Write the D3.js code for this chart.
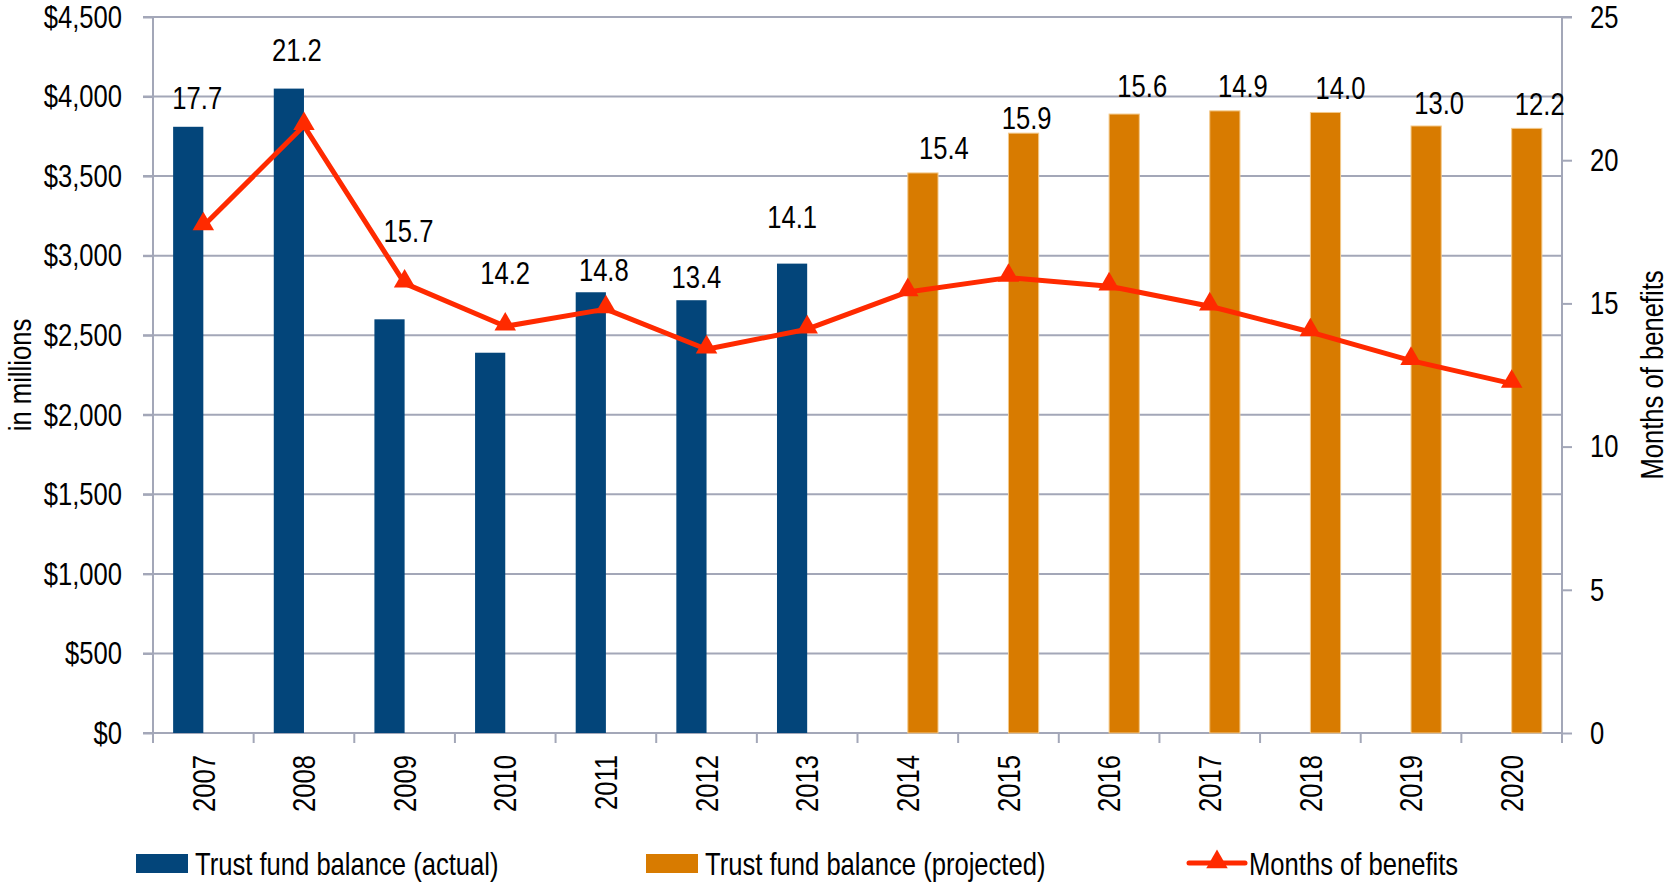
<!DOCTYPE html>
<html>
<head>
<meta charset="utf-8">
<script src="https://cdn.jsdelivr.net/npm/d3@7"></script>
<style>
  body { margin: 0; background: #fff; }
  svg text { font-family: "Liberation Sans", Arial, sans-serif; fill: #000; }
</style>
</head>
<body>
<svg id="chart" width="1672" height="889"></svg>
<script>
const years = ["2007", "2008", "2009", "2010", "2011", "2012", "2013",
               "2014", "2015", "2016", "2017", "2018", "2019", "2020"];
// trust fund balance, $ millions
const actual    = [3810, 4050, 2600, 2390, 2770, 2720, 2950, null, null, null, null, null, null, null];
const projected = [null, null, null, null, null, null, null, 3520, 3770, 3890, 3910, 3900, 3815, 3800];
const months    = [17.7, 21.2, 15.7, 14.2, 14.8, 13.4, 14.1, 15.4, 15.9, 15.6, 14.9, 14.0, 13.0, 12.2];
const leftTicks  = [0, 500, 1000, 1500, 2000, 2500, 3000, 3500, 4000, 4500];
const rightTicks = [0, 5, 10, 15, 20, 25];

// hand placed labels in the original: lift above bar top, shift from bar centre
const labelLift  = [29, 39, 89, 80, 22, 23, 47, 25, 15, 28, 25, 25, 23, 25];
const labelShift = [9, 8, 19, 15, 13, 5, 0, 21, 3, 18, 18, 15, 13, 13];

const navy = "#03457a", orange = "#d87b00", red = "#ff2a00", grid = "#a3a7b8";
const fs = "32px";
const squeeze = 0.8; // the original uses a narrow face, none is installed

// squeeze text horizontally along its own direction
function narrow(sel) {
  sel.each(function () {
    const t = d3.select(this);
    const tx = +t.attr("x") || 0, ty = +t.attr("y") || 0;
    const prev = t.attr("transform") || "";
    t.attr("x", 0).attr("y", 0)
      .attr("transform", `${prev} translate(${tx},${ty}) scale(${squeeze},1)`);
  });
}

const svg = d3.select("#chart");
const plotL = 153, plotR = 1562, plotT = 17, plotB = 733;

const x = d3.scaleBand().domain(years).range([plotL, plotR]).paddingInner(0.4).paddingOuter(0.2);
const sub = d3.scaleBand().domain(["actual", "projected"]).range([0, x.bandwidth()]);
const yL = d3.scaleLinear().domain([0, 4500]).range([plotB, plotT]);
const yR = d3.scaleLinear().domain([0, 25]).range([plotB, plotT]);
const step = x.step();
const centre = d => x(d) + x.bandwidth() / 2;

// gridlines
svg.append("g").selectAll("line").data(leftTicks).join("line")
  .attr("x1", plotL - 10).attr("x2", d => d === 4500 ? plotR + 10 : plotR)
  .attr("y1", d => yL(d)).attr("y2", d => yL(d))
  .attr("stroke", grid).attr("stroke-width", 2);

// left axis
const gl = svg.append("g").attr("transform", `translate(${plotL},0)`)
  .call(d3.axisLeft(yL).tickValues(leftTicks).tickSize(10).tickPadding(21)
    .tickFormat(d => "$" + d3.format(",")(d)));
gl.select(".domain").attr("stroke", grid).attr("stroke-width", 2).attr("d", `M0,${plotT}V${plotB + 10}`);
gl.selectAll(".tick line").attr("stroke", grid).attr("stroke-width", 2);
gl.selectAll("text").style("font-size", fs).attr("fill", "#000").call(narrow);

// right axis
const gr = svg.append("g").attr("transform", `translate(${plotR},0)`)
  .call(d3.axisRight(yR).tickValues(rightTicks).tickSize(10).tickPadding(18));
gr.select(".domain").attr("stroke", grid).attr("stroke-width", 2).attr("d", `M0,${plotT}V${plotB + 10}`);
gr.selectAll(".tick line").attr("stroke", grid).attr("stroke-width", 2);
gr.selectAll("text").style("font-size", fs).attr("fill", "#000").call(narrow);

// x axis: ticks at category boundaries
const bounds = d3.range(years.length + 1).map(i => plotL + i * step);
svg.append("line").attr("x1", plotL).attr("x2", plotR).attr("y1", plotB).attr("y2", plotB)
  .attr("stroke", grid).attr("stroke-width", 2);
svg.append("g").selectAll("line").data(bounds).join("line")
  .attr("x1", d => d).attr("x2", d => d).attr("y1", plotB).attr("y2", plotB + 10)
  .attr("stroke", grid).attr("stroke-width", 2);
svg.append("g").selectAll("text").data(years).join("text")
  .attr("transform", d => `translate(${centre(d)},755) rotate(-90)`)
  .attr("text-anchor", "end").attr("dy", "0.35em")
  .style("font-size", fs).text(d => d).call(narrow);

// bars
svg.append("g").selectAll("rect").data(years.map((d, i) => ({ year: d, v: actual[i] })).filter(d => d.v != null))
  .join("rect")
  .attr("x", d => x(d.year) + sub("actual")).attr("width", sub.bandwidth())
  .attr("y", d => yL(d.v)).attr("height", d => plotB - yL(d.v))
  .attr("fill", navy);
svg.append("g").selectAll("rect").data(years.map((d, i) => ({ year: d, v: projected[i] })).filter(d => d.v != null))
  .join("rect")
  .attr("x", d => x(d.year) + sub("projected")).attr("width", sub.bandwidth())
  .attr("y", d => yL(d.v)).attr("height", d => plotB - yL(d.v))
  .attr("fill", orange).attr("stroke", "#f3c98a").attr("stroke-width", 1);

// months line
const pts = years.map((d, i) => ({ year: d, v: months[i] }));
svg.append("path").datum(pts)
  .attr("d", d3.line().x(d => centre(d.year)).y(d => yR(d.v)))
  .attr("fill", "none").attr("stroke", red).attr("stroke-width", 5).attr("stroke-linejoin", "round");
const tri = d3.symbol().type(d3.symbolTriangle).size(200);
svg.append("g").selectAll("path").data(pts).join("path")
  .attr("transform", d => `translate(${centre(d.year)},${yR(d.v) - 2})`)
  .attr("d", tri).attr("fill", red);

// value labels
svg.append("g").selectAll("text").data(pts).join("text")
  .attr("x", (d, i) => {
    const key = actual[i] != null ? "actual" : "projected";
    return x(d.year) + sub(key) + sub.bandwidth() / 2 + labelShift[i];
  })
  .attr("y", (d, i) => yL(actual[i] != null ? actual[i] : projected[i]) - labelLift[i])
  .attr("dy", "0.35em").attr("text-anchor", "middle")
  .style("font-size", fs).text(d => d3.format(".1f")(d.v)).call(narrow);

// axis titles
svg.append("text").attr("transform", "translate(31,375) rotate(-90)")
  .attr("text-anchor", "middle").style("font-size", fs).text("in millions").call(narrow);
svg.append("text").attr("transform", "translate(1663,375) rotate(-90)")
  .attr("text-anchor", "middle").style("font-size", fs).text("Months of benefits").call(narrow);

// legend
const legend = [
  { label: "Trust fund balance (actual)", color: navy, x: 136, type: "box" },
  { label: "Trust fund balance (projected)", color: orange, x: 646, type: "box" },
  { label: "Months of benefits", color: red, x: 1189, type: "line" }
];
const lg = svg.append("g");
legend.forEach(l => {
  const g = lg.append("g").attr("transform", `translate(${l.x},0)`);
  if (l.type === "box") {
    g.append("rect").attr("x", 0).attr("y", 854).attr("width", 52).attr("height", 19).attr("fill", l.color);
  } else {
    g.append("line").attr("x1", 0).attr("x2", 56).attr("y1", 863).attr("y2", 863)
      .attr("stroke", l.color).attr("stroke-width", 5).attr("stroke-linecap", "round");
    g.append("path").attr("transform", "translate(28,862)").attr("d", tri).attr("fill", l.color);
  }
  g.append("text").attr("x", l.type === "box" ? 59 : 60).attr("y", 875)
    .style("font-size", fs).text(l.label).call(narrow);
});
</script>
</body>
</html>
